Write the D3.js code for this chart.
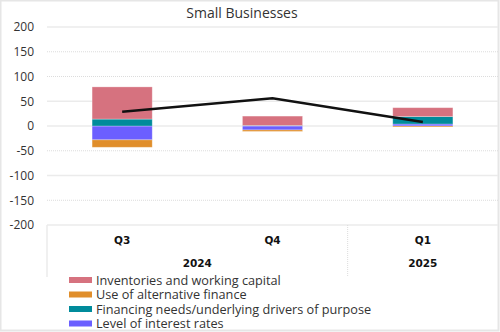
<!DOCTYPE html>
<html lang="en">
<head>
    <meta charset="UTF-8">
    <title>Small Businesses</title>
    <script src="https://d3js.org/d3.v7.min.js"></script>
    <style>
        body { margin: 0; background: #fff; }
        svg { font-family: "Open Sans", sans-serif; }
    </style>
</head>
<body>
    <div id="chart"></div>

    <script>
        // Data
        const quarters = ["Q3", "Q4", "Q1"];
        const years = ["2024", "2024", "2025"];
        const inventories = [65, 19, 18];
        const altFinance = [-15, -3, -2];
        const financingNeeds = [14, 1, 15];
        const interestRates = [-28, -8, 4];
        const netBalance = [29, 56, 8];
        const yTicks = [200, 150, 100, 50, 0, -50, -100, -150, -200];

        const seriesNames = [
            "Inventories and working capital",
            "Use of alternative finance",
            "Financing needs/underlying drivers of purpose",
            "Level of interest rates"
        ];
        const seriesColors = ["#d6727f", "#e08e2b", "#008b9b", "#6b5fff"];
        const seriesValues = [inventories, altFinance, financingNeeds, interestRates];

        const width = 500, height = 332;
        const margin = {top: 27, right: 2, bottom: 107, left: 47};
        const plotW = width - margin.left - margin.right;
        const plotH = height - margin.top - margin.bottom;

        const svg = d3.select("#chart")
            .append("svg")
            .attr("width", width)
            .attr("height", height);

        // outer frame
        svg.append("rect")
            .attr("x", 0.5).attr("y", 0.5)
            .attr("width", width - 2).attr("height", height - 2)
            .attr("fill", "none")
            .attr("stroke", "#e6e6e6")
            .attr("stroke-width", 2);

        svg.append("text")
            .attr("x", 242).attr("y", 18)
            .attr("text-anchor", "middle")
            .attr("font-size", 14)
            .attr("fill", "#333")
            .text("Small Businesses");

        const g = svg.append("g")
            .attr("transform", `translate(${margin.left},${margin.top})`);

        const x = d3.scaleBand().domain(quarters).range([0, plotW]).padding(0);
        const y = d3.scaleLinear().domain([-200, 200]).range([plotH, 0]);

        // gridlines
        const solidTicks = [200, 50, 0, -100, -200];
        g.selectAll(".grid")
            .data(yTicks)
            .enter()
            .append("line")
            .attr("x1", 0).attr("x2", plotW)
            .attr("y1", d => y(d)).attr("y2", d => y(d))
            .attr("stroke", d => solidTicks.includes(d) ? "#ebebeb" : "#dcdcdc")
            .attr("stroke-width", d => solidTicks.includes(d) ? 1.5 : 1)
            .attr("stroke-dasharray", d => solidTicks.includes(d) ? null : "1,1");

        // y axis labels
        const yAxis = g.append("g")
            .call(d3.axisLeft(y).tickValues(yTicks).tickSize(0).tickPadding(13)
                .tickFormat(d => d < 0 ? "-" + Math.abs(d) : d));
        yAxis.select(".domain").remove();
        yAxis.selectAll("text")
            .attr("font-family", "'Open Sans', sans-serif")
            .attr("font-size", 12)
            .attr("fill", "#333");

        // stacked bars
        const rows = quarters.map((q, i) => {
            const r = {quarter: q};
            seriesNames.forEach((s, j) => r[s] = seriesValues[j][i]);
            return r;
        });
        const stackOrder = [seriesNames[3], seriesNames[2], seriesNames[1], seriesNames[0]];
        const stacked = d3.stack()
            .keys(stackOrder)
            .offset(d3.stackOffsetDiverging)(rows);

        const barW = x.bandwidth() * 0.4;
        g.selectAll(".layer")
            .data(stacked)
            .enter()
            .append("g")
            .attr("fill", d => seriesColors[seriesNames.indexOf(d.key)])
            .selectAll("rect")
            .data(d => d)
            .enter()
            .append("rect")
            .attr("x", d => x(d.data.quarter) + (x.bandwidth() - barW) / 2)
            .attr("y", d => y(Math.max(d[0], d[1])))
            .attr("width", barW)
            .attr("height", d => Math.abs(y(d[0]) - y(d[1])))
            .attr("stroke", "#fff")
            .attr("stroke-opacity", 0.35)
            .attr("stroke-width", 0.8);

        // net balance line
        const line = d3.line()
            .x((d, i) => x(quarters[i]) + x.bandwidth() / 2)
            .y(d => y(d));
        g.append("path")
            .datum(netBalance)
            .attr("d", line)
            .attr("fill", "none")
            .attr("stroke", "#111")
            .attr("stroke-width", 2.5);

        // category axis: quarters and years
        const axisG = g.append("g").attr("transform", `translate(0,${plotH})`);
        axisG.append("line")
            .attr("x1", 0).attr("x2", 0)
            .attr("y1", 0).attr("y2", 52)
            .attr("stroke", "#ebebeb").attr("stroke-width", 1.5);
        axisG.append("line")
            .attr("x1", x("Q1")).attr("x2", x("Q1"))
            .attr("y1", 0).attr("y2", 52)
            .attr("stroke", "#dcdcdc").attr("stroke-dasharray", "1,1");

        axisG.selectAll(".qlab")
            .data(quarters)
            .enter()
            .append("text")
            .attr("x", d => x(d) + x.bandwidth() / 2)
            .attr("y", 19)
            .attr("text-anchor", "middle")
            .attr("font-family", "'DejaVu Sans', sans-serif")
            .attr("font-size", 10.5)
            .attr("font-weight", "bold")
            .attr("fill", "#111")
            .text(d => d);

        const yearGroups = d3.groups(quarters.map((q, i) => ({q, yr: years[i]})), d => d.yr);
        axisG.selectAll(".ylab")
            .data(yearGroups)
            .enter()
            .append("text")
            .attr("x", d => {
                const first = x(d[1][0].q);
                const last = x(d[1][d[1].length - 1].q) + x.bandwidth();
                return (first + last) / 2;
            })
            .attr("y", 42)
            .attr("text-anchor", "middle")
            .attr("font-family", "'DejaVu Sans', sans-serif")
            .attr("font-size", 10.5)
            .attr("font-weight", "bold")
            .attr("fill", "#111")
            .text(d => d[0]);

        // legend
        const legend = svg.append("g").attr("transform", "translate(69,280)");
        const item = legend.selectAll(".item")
            .data(seriesNames)
            .enter()
            .append("g")
            .attr("transform", (d, i) => `translate(0,${i * 14.5})`);
        item.append("rect")
            .attr("x", 0).attr("y", -3)
            .attr("width", 23).attr("height", 6)
            .attr("fill", (d, i) => seriesColors[i]);
        item.append("text")
            .attr("x", 27).attr("y", 4.5)
            .attr("font-size", 12.7)
            .attr("fill", "#333")
            .text(d => d);
    </script>
</body>
</html>
